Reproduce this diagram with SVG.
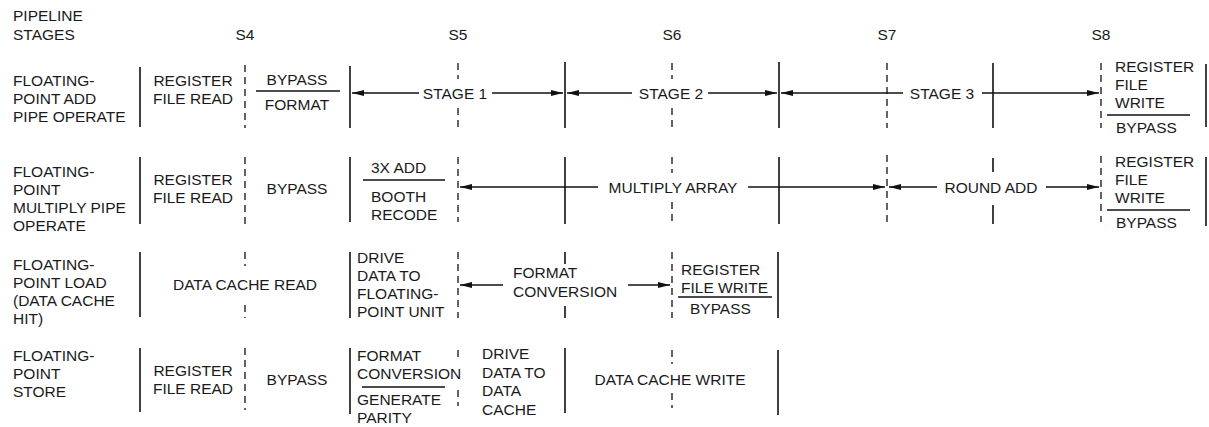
<svg xmlns="http://www.w3.org/2000/svg" width="1209" height="427" viewBox="0 0 1209 427">
<style>
text{font-family:"Liberation Sans",Arial,sans-serif;font-size:15.5px;fill:#1a1a1a}
.c{text-anchor:middle}
.s{stroke:#111;stroke-width:1.6;fill:none}
.d{stroke:#111;stroke-width:1.3;stroke-dasharray:7 5;fill:none}
.h{stroke:#111;stroke-width:1.4;fill:none}
.a{stroke:#111;stroke-width:1.4;fill:none;marker-end:url(#ah)}
</style>
<defs>
<marker id="ah" viewBox="0 0 12 6" refX="12" refY="3" markerWidth="12" markerHeight="6" markerUnits="userSpaceOnUse" orient="auto">
<path d="M0,0 L12,3 L0,6 Z" fill="#111"/>
</marker>
</defs>
<g id="header">
<text x="13" y="21">PIPELINE</text>
<text x="13" y="40">STAGES</text>
<text class="c" x="245" y="40">S4</text>
<text class="c" x="458" y="40">S5</text>
<text class="c" x="672" y="40">S6</text>
<text class="c" x="887" y="40">S7</text>
<text class="c" x="1101" y="40">S8</text>
</g>
<g id="row-add">
<text x="13" y="86">FLOATING-</text>
<text x="13" y="104">POINT ADD</text>
<text x="13" y="122">PIPE OPERATE</text>
<line class="s" x1="140" y1="67" x2="140" y2="127"/>
<text class="c" x="193" y="86">REGISTER</text>
<text class="c" x="193" y="104">FILE READ</text>
<line class="d" x1="245" y1="65" x2="245" y2="128"/>
<text class="c" x="297" y="85">BYPASS</text>
<line class="h" x1="256" y1="91" x2="340" y2="91"/>
<text class="c" x="297" y="110">FORMAT</text>
<line class="s" x1="350" y1="66" x2="350" y2="128"/>
<text class="c" x="455" y="99">STAGE 1</text>
<line class="d" x1="458" y1="63" x2="458" y2="79"/>
<line class="d" x1="458" y1="108" x2="458" y2="128"/>
<line class="s" x1="565" y1="62" x2="565" y2="128"/>
<text class="c" x="671" y="99">STAGE 2</text>
<line class="d" x1="672" y1="63" x2="672" y2="79"/>
<line class="d" x1="672" y1="108" x2="672" y2="128"/>
<line class="s" x1="779" y1="62" x2="779" y2="128"/>
<text class="c" x="942" y="99">STAGE 3</text>
<line class="d" x1="887" y1="63" x2="887" y2="128"/>
<line class="s" x1="993" y1="63" x2="993" y2="128"/>
<line class="d" x1="1101" y1="63" x2="1101" y2="128"/>
<text x="1115" y="72">REGISTER</text>
<text x="1115" y="90">FILE</text>
<text x="1115" y="108">WRITE</text>
<line class="h" x1="1107" y1="115" x2="1190" y2="115"/>
<text x="1116" y="133">BYPASS</text>
<line class="s" x1="1206" y1="64" x2="1206" y2="127"/>
</g>
<g id="row-multiply">
<text x="13" y="177">FLOATING-</text>
<text x="13" y="195">POINT</text>
<text x="13" y="213">MULTIPLY PIPE</text>
<text x="13" y="231">OPERATE</text>
<line class="s" x1="140" y1="157" x2="140" y2="224"/>
<text class="c" x="193" y="185">REGISTER</text>
<text class="c" x="193" y="203">FILE READ</text>
<line class="d" x1="245" y1="157" x2="245" y2="224"/>
<text class="c" x="297" y="194">BYPASS</text>
<line class="s" x1="350" y1="157" x2="350" y2="222"/>
<text x="371" y="173">3X ADD</text>
<line class="h" x1="363" y1="180" x2="445" y2="180"/>
<text x="371" y="202">BOOTH</text>
<text x="371" y="220">RECODE</text>
<line class="d" x1="458" y1="157" x2="458" y2="222"/>
<line class="s" x1="565" y1="157" x2="565" y2="224"/>
<text class="c" x="673" y="193">MULTIPLY ARRAY</text>
<line class="d" x1="672" y1="157" x2="672" y2="173"/>
<line class="d" x1="672" y1="202" x2="672" y2="224"/>
<line class="s" x1="779" y1="157" x2="779" y2="224"/>
<line class="d" x1="887" y1="155" x2="887" y2="224"/>
<text class="c" x="991" y="193">ROUND ADD</text>
<line class="s" x1="993" y1="158" x2="993" y2="172"/>
<line class="s" x1="993" y1="205" x2="993" y2="224"/>
<line class="d" x1="1101" y1="156" x2="1101" y2="222"/>
<text x="1115" y="167">REGISTER</text>
<text x="1115" y="185">FILE</text>
<text x="1115" y="203">WRITE</text>
<line class="h" x1="1107" y1="210" x2="1190" y2="210"/>
<text x="1116" y="228">BYPASS</text>
<line class="s" x1="1206" y1="157" x2="1206" y2="226"/>
</g>
<g id="row-load">
<text x="13" y="270">FLOATING-</text>
<text x="13" y="288">POINT LOAD</text>
<text x="13" y="306">(DATA CACHE</text>
<text x="13" y="324">HIT)</text>
<line class="s" x1="140" y1="252" x2="140" y2="317"/>
<text class="c" x="245" y="290">DATA CACHE READ</text>
<line class="d" x1="245" y1="252" x2="245" y2="266"/>
<line class="d" x1="245" y1="305" x2="245" y2="318"/>
<line class="s" x1="350" y1="252" x2="350" y2="318"/>
<text x="357" y="263">DRIVE</text>
<text x="357" y="281">DATA TO</text>
<text x="357" y="299">FLOATING-</text>
<text x="357" y="317">POINT UNIT</text>
<line class="d" x1="458" y1="252" x2="458" y2="318"/>
<text x="513" y="278">FORMAT</text>
<text x="513" y="297">CONVERSION</text>
<line class="s" x1="565" y1="252" x2="565" y2="264"/>
<line class="s" x1="565" y1="306" x2="565" y2="318"/>
<line class="d" x1="672" y1="252" x2="672" y2="318"/>
<text x="681" y="275">REGISTER</text>
<text x="681" y="293">FILE WRITE</text>
<line class="h" x1="678" y1="297" x2="772" y2="297"/>
<text x="690" y="314">BYPASS</text>
<line class="s" x1="778" y1="252" x2="778" y2="318"/>
</g>
<g id="row-store">
<text x="13" y="361">FLOATING-</text>
<text x="13" y="379">POINT</text>
<text x="13" y="397">STORE</text>
<line class="s" x1="140" y1="348" x2="140" y2="412"/>
<text class="c" x="193" y="376">REGISTER</text>
<text class="c" x="193" y="394">FILE READ</text>
<line class="d" x1="245" y1="348" x2="245" y2="410"/>
<text class="c" x="297" y="385">BYPASS</text>
<line class="s" x1="350" y1="348" x2="350" y2="414"/>
<text x="357" y="361">FORMAT</text>
<text x="357" y="379">CONVERSION</text>
<line class="h" x1="362" y1="387" x2="445" y2="387"/>
<text x="357" y="405">GENERATE</text>
<text x="357" y="423">PARITY</text>
<line class="d" x1="458" y1="350" x2="458" y2="358"/>
<line class="d" x1="458" y1="390" x2="458" y2="406"/>
<text x="482" y="359">DRIVE</text>
<text x="482" y="378">DATA TO</text>
<text x="482" y="396">DATA</text>
<text x="482" y="415">CACHE</text>
<line class="s" x1="565" y1="348" x2="565" y2="413"/>
<text class="c" x="670" y="385">DATA CACHE WRITE</text>
<line class="d" x1="672" y1="350" x2="672" y2="364"/>
<line class="d" x1="672" y1="393" x2="672" y2="408"/>
<line class="s" x1="778" y1="350" x2="778" y2="415"/>
</g>
<g id="connectors">
<line class="a" x1="419" y1="93" x2="352" y2="93"/>
<line class="a" x1="492" y1="93" x2="563" y2="93"/>
<line class="a" x1="632" y1="93" x2="567" y2="93"/>
<line class="a" x1="708" y1="93" x2="777" y2="93"/>
<line class="a" x1="903" y1="93" x2="781" y2="93"/>
<line class="a" x1="982" y1="93" x2="1099" y2="93"/>
<line class="a" x1="598" y1="187" x2="460" y2="187"/>
<line class="a" x1="748" y1="187" x2="885" y2="187"/>
<line class="a" x1="937" y1="187" x2="889" y2="187"/>
<line class="a" x1="1046" y1="187" x2="1099" y2="187"/>
<line class="a" x1="503" y1="285" x2="460" y2="285"/>
<line class="a" x1="628" y1="285" x2="670" y2="285"/>
</g>
</svg>
